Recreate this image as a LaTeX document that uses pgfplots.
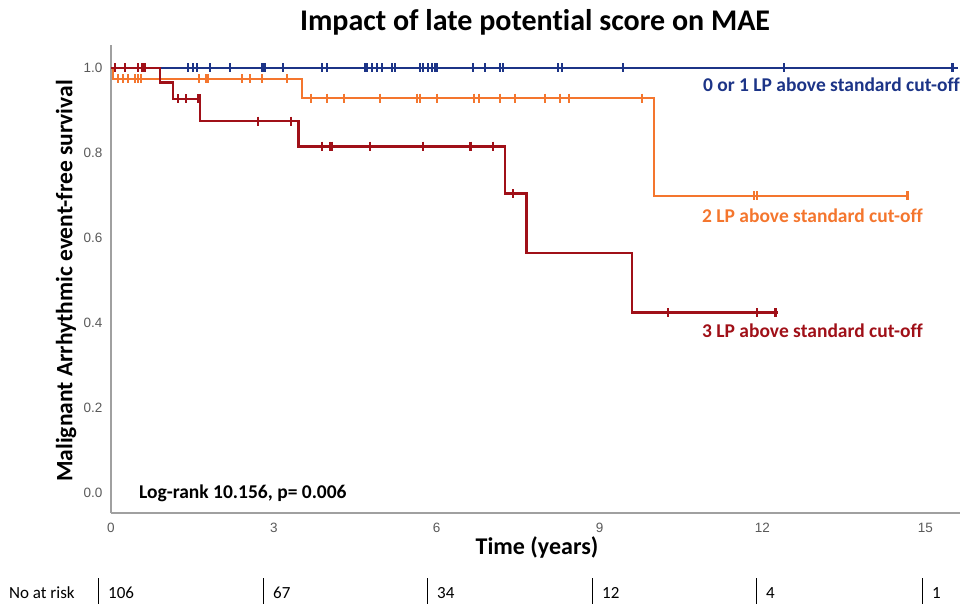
\documentclass[border=0pt]{standalone}
\usepackage{pgfplots}
\pgfplotsset{compat=1.18}
\usepackage{fontspec}
\setmainfont{Carlito}[Ligatures=CommonOff]
\newfontfamily\arialf{Liberation Sans}
\definecolor{kmblue}{RGB}{28,52,135}
\definecolor{kmorange}{RGB}{244,118,46}
\definecolor{kmred}{RGB}{160,16,24}
\definecolor{axgray}{RGB}{160,160,160}
\begin{document}
\begin{tikzpicture}[x=1pt,y=1pt]
\path[use as bounding box] (0,0) rectangle (962,604);
\begin{axis}[
  at={(111pt,91pt)}, anchor=south west,
  scale only axis, width=849pt, height=468pt,
  xmin=0, xmax=15.64, ymin=-0.047, ymax=1.054,
  axis x line*=bottom, axis y line*=left,
  axis line style={draw=axgray, line width=1.6pt, -},
  xtick={0,3,6,9,12,15}, ytick={0,0.2,0.4,0.6,0.8,1.0},
  major tick length=0pt,
  tick style={draw=none},
  /pgf/number format/assume math mode=true,
  ticklabel style={font=\arialf\fontsize{13.5}{13.5}\selectfont, text=black!65},
  yticklabel style={xshift=-5pt, /pgf/number format/.cd, fixed, fixed zerofill, precision=1},
  xticklabel style={yshift=-7pt},
  clip=false,
]
% blue: 0 or 1 LP
\addplot[const plot, kmblue, line width=2.5pt] coordinates {(0,1) (15.6,1)};
\addplot[only marks, mark=|, mark size=4.5pt, mark options={draw=kmblue, line width=2.3pt}] coordinates {
(1.42,1)(1.51,1)(1.58,1)(1.82,1)(2.19,1)(2.78,1)(2.80,1)(2.84,1)(3.17,1)(3.89,1)(3.98,1)
(4.68,1)(4.72,1)(4.81,1)(4.90,1)(4.99,1)(5.18,1)(5.23,1)(5.69,1)(5.75,1)(5.84,1)(5.91,1)
(5.97,1)(6.01,1)(6.67,1)(6.89,1)(7.17,1)(7.22,1)(8.24,1)(8.31,1)(9.43,1)(12.40,1)(15.50,1)};
% orange: 2 LP
\addplot[const plot, kmorange, line width=2.5pt] coordinates {(0,1) (0.04,0.974) (3.52,0.929) (10.0,0.699) (14.67,0.699)};
\addplot[only marks, mark=|, mark size=4.5pt, mark options={draw=kmorange, line width=2.3pt}] coordinates {
(0.13,0.974)(0.22,0.974)(0.31,0.974)(0.44,0.974)(0.50,0.974)(0.55,0.974)(1.62,0.974)(1.75,0.974)
(1.79,0.974)(2.41,0.974)(2.56,0.974)(2.78,0.974)(3.24,0.974)
(3.69,0.929)(3.98,0.929)(4.29,0.929)(4.96,0.929)(5.64,0.929)(5.69,0.929)(6.01,0.929)(6.69,0.929)
(6.78,0.929)(7.17,0.929)(7.44,0.929)(8.00,0.929)(8.27,0.929)(8.44,0.929)(9.78,0.929)
(11.85,0.699)(11.90,0.699)(14.67,0.699)};
% red: 3 LP
\addplot[const plot, kmred, line width=2.7pt] coordinates {(0,1) (0.90,0.965) (1.14,0.927) (1.64,0.875) (3.46,0.816) (7.26,0.704) (7.65,0.565) (9.60,0.424) (12.29,0.424)};
\addplot[only marks, mark=|, mark size=4.5pt, mark options={draw=kmred, line width=2.3pt}] coordinates {
(0.07,1)(0.26,1)(0.50,1)(0.57,1)(0.59,1)(0.63,1)
(1.23,0.927)(1.38,0.927)(1.60,0.927)(1.63,0.927)
(2.71,0.875)(3.32,0.875)
(3.89,0.816)(4.04,0.816)(4.07,0.816)(4.77,0.816)(5.75,0.816)(6.62,0.816)(7.04,0.816)
(7.41,0.704)
(10.26,0.424)(11.90,0.424)(12.24,0.424)};
\end{axis}
% titles and labels
\node[font=\bfseries\fontsize{30}{30}\selectfont] at (535,582) {Impact of late potent\kern0pt ial score on MAE};
\node[rotate=90, font=\bfseries\fontsize{23.5}{23.5}\selectfont] at (66,323) {Malignant Arrhythmic event-free survival};
\node[font=\bfseries\fontsize{24}{24}\selectfont] at (537,57) {Time (years)};
\node[anchor=east, inner sep=0pt, text=kmblue, font=\bfseries\fontsize{19.5}{19.5}\selectfont] at (960,519) {0 or 1 LP above standard cut-off};
\node[anchor=east, inner sep=0pt, text=kmorange, font=\bfseries\fontsize{19.5}{19.5}\selectfont] at (923,388) {2 LP above standard cut-off};
\node[anchor=east, inner sep=0pt, text=kmred, font=\bfseries\fontsize{19.5}{19.5}\selectfont] at (923,273) {3 LP above standard cut-off};
\node[anchor=west, inner sep=0pt, font=\bfseries\fontsize{19.5}{19.5}\selectfont] at (139,111) {Log-rank 10.156, p= 0.006};
% number at risk
\node[anchor=west, inner sep=0pt, font=\fontsize{17}{17}\selectfont] at (9,11) {No at risk};
\foreach \xx/\nn in {98/106, 263/67, 427/34, 592/12, 756/4, 922/1} {
  \draw[line width=1pt] (\xx,0) -- (\xx,26);
  \node[anchor=west, inner sep=0pt, font=\fontsize{17}{17}\selectfont] at (\xx+10,11) {\nn};
}
\end{tikzpicture}
\end{document}
